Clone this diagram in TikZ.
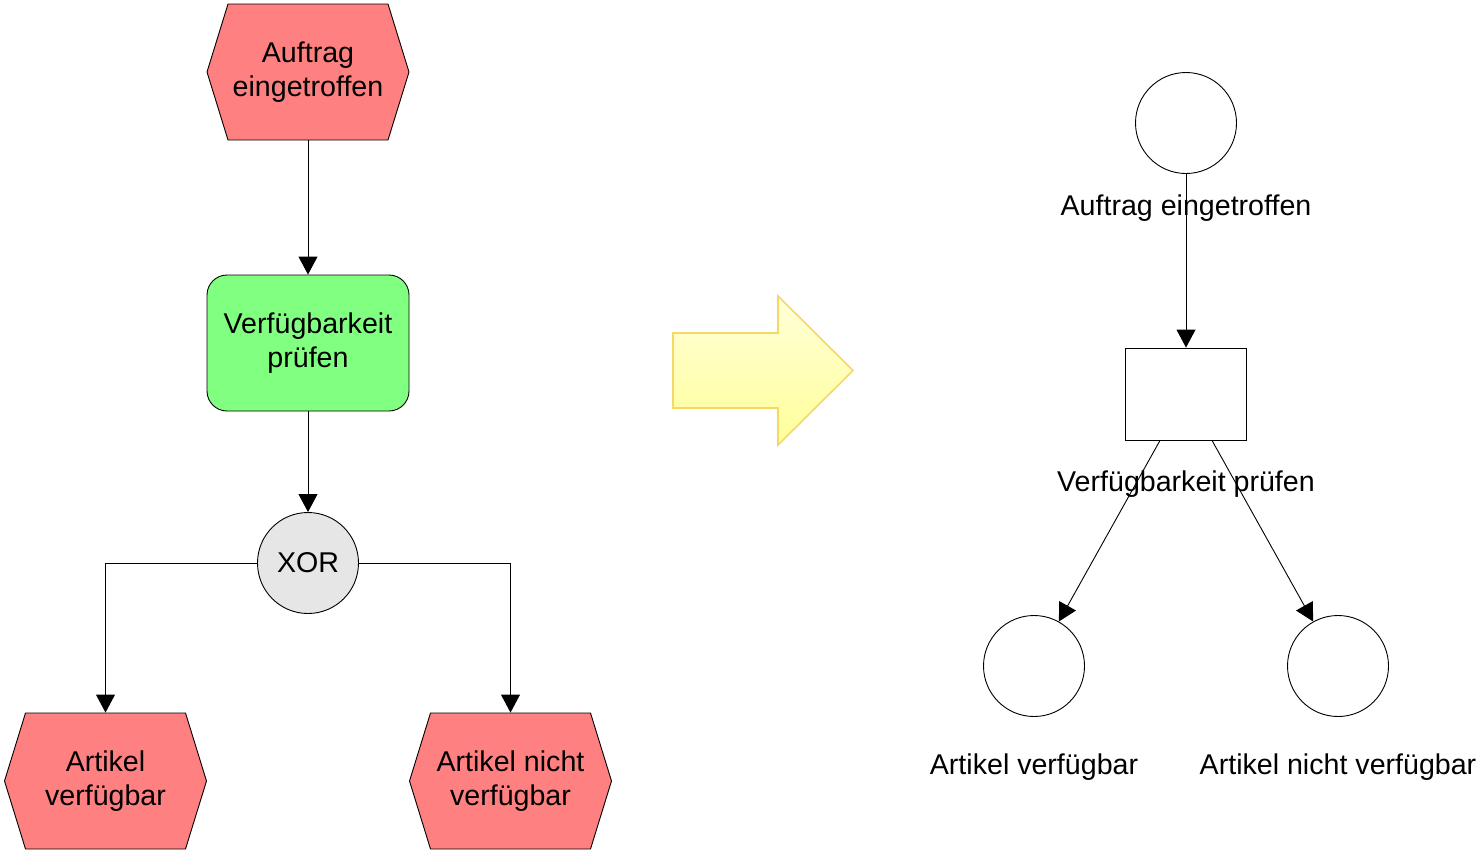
\documentclass[tikz,border=0pt]{standalone}
\usepackage{fontspec}
\setmainfont{Liberation Sans}
\usetikzlibrary{arrows.meta,calc}
\definecolor{evred}{HTML}{FF8080}
\definecolor{fngreen}{HTML}{80FF80}
\definecolor{xorgray}{HTML}{E6E6E6}
\definecolor{arrowtop}{HTML}{FFFFD8}
\definecolor{arrowbot}{HTML}{FFFF99}
\definecolor{arrowline}{HTML}{F7D766}

% event hexagon: name, centre x, centre y, text
\newcommand\eventhex[4]{%
  \filldraw[evtshape] (#2-101,#3) -- (#2-80,#3-68) -- (#2+80,#3-68)
    -- (#2+101,#3) -- (#2+80,#3+68) -- (#2-80,#3+68) -- cycle;
  \node[boxtext, minimum width=202, minimum height=136] (#1) at (#2,#3) {#4};}

\begin{document}
\begin{tikzpicture}[x=1pt, y=-1pt, line width=0.9pt,
  font=\fontsize{28.6}{34.5}\selectfont,
  tip/.style={-{Triangle[length=18pt,width=19pt]}},
  evtshape/.style={draw=black, fill=evred},
  boxtext/.style={inner sep=0pt, align=center},
  funcbox/.style={draw=black, fill=fngreen, rounded corners=20pt, inner sep=0pt,
    minimum width=202, minimum height=136, align=center},
  xorgate/.style={draw=black, fill=xorgray, circle, inner sep=0pt, minimum size=101},
  place/.style={draw=black, fill=white, circle, inner sep=0pt, minimum size=101},
  transition/.style={draw=black, fill=white, inner sep=0pt, minimum width=121, minimum height=92},
  lbl/.style={inner sep=0pt, anchor=base}]

\useasboundingbox (0,0) rectangle (1477,852);

% EPC side
\eventhex{e1}{308}{72}{Auftrag\\eingetroffen}
\node[funcbox] (f1) at (308,343) {Verfügbarkeit\\prüfen};
\node[xorgate] (x) at (308,563) {XOR};
\eventhex{e2}{105.5}{781}{Artikel\\verfügbar}
\eventhex{e3}{510.5}{781}{Artikel nicht\\verfügbar}

\draw[tip] (e1) -- (f1);
\draw[tip] (f1) -- (x);
\draw[tip] (x.west) -| (e2.north);
\draw[tip] (x.east) -| (e3.north);

% transformation arrow
\shade[top color=arrowtop, bottom color=arrowbot, draw=arrowline, line width=1.6pt]
  (673,333) -- (778,333) -- (778,296) -- (853,370.5) -- (778,445)
  -- (778,408) -- (673,408) -- cycle;

% Petri net side
\node[place] (p1) at (1186,123) {};
\node[transition] (t) at (1186,394) {};
\node[place] (p2) at (1034,666) {};
\node[place] (p3) at (1338,666) {};

\draw[tip] (p1) -- (t);
\draw[tip] ($(t.south)+(-26,0)$) -- (p2);
\draw[tip] ($(t.south)+(26,0)$) -- (p3);

\node[lbl] (l1) at (1186,215) {Auftrag eingetroffen};
\node[lbl] (l2) at (1186,491) {Verfügbarkeit prüfen};
\node[lbl] (l3) at (1034,774) {Artikel verfügbar};
\node[lbl] (l4) at (1338,774) {Artikel nicht verfügbar};
\end{tikzpicture}
\end{document}
